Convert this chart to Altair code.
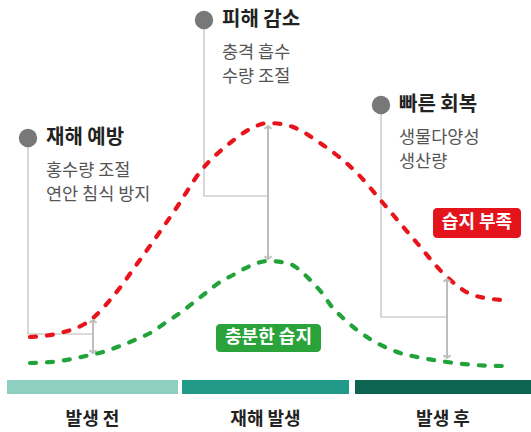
import altair as alt
import pandas as pd

W, H = 531, 432
FONT = "Noto Sans CJK KR"

# Curves (x, y in picture units, y downwards)
red_x = [30, 60, 93, 110, 122, 132, 142, 152, 177, 200, 230, 250, 268, 290, 320, 357, 383, 417, 447, 473, 502]
red_y = [337, 333, 318, 300, 285, 271, 257, 243, 207, 172, 143, 129, 123, 126, 143, 173, 203, 243, 277, 295, 300]
green_x = [30, 60, 90, 103, 120, 137, 152, 165, 180, 193, 207, 220, 233, 250, 268, 290, 297, 312, 322, 332, 343, 357, 370, 385, 400, 417, 447, 475, 502]
green_y = [363, 361, 355, 352, 346, 339, 332, 323, 313, 303, 292, 282, 275, 266, 261, 264, 268, 282, 293, 307, 318, 330, 339, 347, 353, 357, 362, 365, 366]

# Annotations
ann_titles = ["재해 예방", "피해 감소", "빠른 회복"]
ann_lines1 = ["홍수량 조절", "충격 흡수", "생물다양성"]
ann_lines2 = ["연안 침식 방지", "수량 조절", "생산량"]
ann_dot_x = [28, 204, 381]
ann_dot_y = [138, 20, 105]
ann_elbow_y = [334, 196, 317]
ann_arrow_x = [93, 268, 447]
ann_arrow_top = [320, 126, 279]
ann_arrow_bot = [353, 259, 358]

# Series labels
tag_text = ["습지 부족", "충분한 습지"]
tag_color = ["#e3141c", "#2ba33b"]
tag_x0 = [433, 216]
tag_x1 = [521, 321]
tag_y0 = [208, 324]
tag_y1 = [238, 352]

# Stages
stage_labels = ["발생 전", "재해 발생", "발생 후"]
stage_colors = ["#8ecfc1", "#219a89", "#0d6551"]
stage_x0 = [7, 182, 355]
stage_x1 = [178, 349, 531]
stage_y0 = 380
stage_y1 = 394
stage_label_y = 420

xs = alt.Scale(domain=[0, W], nice=False, zero=False)
ys = alt.Scale(domain=[H, 0], nice=False, zero=False)

def X(f, **kw):
    return alt.X(f, type="quantitative", scale=xs, axis=None, **kw)

def Y(f, **kw):
    return alt.Y(f, type="quantitative", scale=ys, axis=None, **kw)

layers = []

# connector lines
conn_rows = []
for i in range(3):
    pts = [(ann_dot_x[i], ann_dot_y[i]), (ann_dot_x[i], ann_elbow_y[i]), (ann_arrow_x[i], ann_elbow_y[i])]
    for k, (a, b) in enumerate(pts):
        conn_rows.append({"g": i, "o": k, "x": a, "y": b})
conn = alt.Chart(pd.DataFrame(conn_rows)).mark_line(color="#cfcfcf", strokeWidth=1.6).encode(
    x=X("x"), y=Y("y"), detail="g:N", order="o:Q")
layers.append(conn)

# curves
red_df = pd.DataFrame({"x": red_x, "y": red_y})
green_df = pd.DataFrame({"x": green_x, "y": green_y})
for df, col in [(red_df, "#e8141c"), (green_df, "#22a33a")]:
    layers.append(alt.Chart(df).mark_line(color=col, strokeWidth=4.2, strokeDash=[6, 11], strokeCap="round",
                                          interpolate="monotone").encode(x=X("x"), y=Y("y")))

# arrows
arr_df = pd.DataFrame({"x": ann_arrow_x, "y": ann_arrow_top, "y2": ann_arrow_bot})
layers.append(alt.Chart(arr_df).mark_rule(color="#bdbdbd", strokeWidth=2).encode(
    x=X("x"), y=Y("y"), y2="y2"))
layers.append(alt.Chart(arr_df).mark_point(shape="M-1,0.8L0,0L1,0.8", size=50, filled=False,
                                           color="#bdbdbd", strokeWidth=2, opacity=1).encode(x=X("x"), y=Y("y")))
layers.append(alt.Chart(arr_df).mark_point(shape="M-1,-0.8L0,0L1,-0.8", size=50, filled=False,
                                           color="#bdbdbd", strokeWidth=2, opacity=1).encode(x=X("x"), y=Y("y2")))

# dots
dot_df = pd.DataFrame({"x": ann_dot_x, "y": ann_dot_y})
layers.append(alt.Chart(dot_df).mark_circle(size=340, color="#787878", opacity=1).encode(x=X("x"), y=Y("y")))

# titles & sublines
txt_rows = []
for i in range(3):
    txt_rows.append({"x": ann_dot_x[i] + 18, "y": ann_dot_y[i], "t": ann_titles[i], "k": "title"})
    txt_rows.append({"x": ann_dot_x[i] + 18, "y": ann_dot_y[i] + 33, "t": ann_lines1[i], "k": "sub"})
    txt_rows.append({"x": ann_dot_x[i] + 18, "y": ann_dot_y[i] + 57, "t": ann_lines2[i], "k": "sub"})
txt_df = pd.DataFrame(txt_rows)
layers.append(alt.Chart(txt_df[txt_df.k == "title"]).mark_text(
    align="left", baseline="middle", font=FONT, fontSize=20, fontWeight="bold", color="#222222").encode(
    x=X("x"), y=Y("y"), text="t:N"))
layers.append(alt.Chart(txt_df[txt_df.k == "sub"]).mark_text(
    align="left", baseline="middle", font=FONT, fontSize=17.5, color="#555555").encode(
    x=X("x"), y=Y("y"), text="t:N"))

# tags
tag_df = pd.DataFrame({"t": tag_text, "c": tag_color, "x0": tag_x0, "x1": tag_x1, "y0": tag_y0, "y1": tag_y1})
tag_df["xm"] = (tag_df.x0 + tag_df.x1) / 2
tag_df["ym"] = (tag_df.y0 + tag_df.y1) / 2
layers.append(alt.Chart(tag_df).mark_rect(cornerRadius=4).encode(
    x=X("x0"), x2="x1", y=Y("y0"), y2="y1", color=alt.Color("c:N", scale=None)))
layers.append(alt.Chart(tag_df).mark_text(font=FONT, fontSize=18, fontWeight="bold", color="white",
                                          baseline="middle", align="center").encode(
    x=X("xm"), y=Y("ym"), text="t:N"))

# stage bars
st_df = pd.DataFrame({"t": stage_labels, "c": stage_colors, "x0": stage_x0, "x1": stage_x1})
st_df["y0"] = stage_y0
st_df["y1"] = stage_y1
st_df["xm"] = (st_df.x0 + st_df.x1) / 2
st_df["ym"] = stage_label_y
layers.append(alt.Chart(st_df).mark_rect().encode(
    x=X("x0"), x2="x1", y=Y("y0"), y2="y1", color=alt.Color("c:N", scale=None)))
layers.append(alt.Chart(st_df).mark_text(font=FONT, fontSize=18, fontWeight="bold", color="#222222",
                                         baseline="middle", align="center").encode(
    x=X("xm"), y=Y("ym"), text="t:N"))

chart = alt.layer(*layers).properties(
    width=W, height=H, padding=0, autosize=alt.AutoSizeParams(type="none"), background="white"
).configure_view(stroke=None)

chart.save("out.html", embed_options={"renderer": "svg", "actions": False})
